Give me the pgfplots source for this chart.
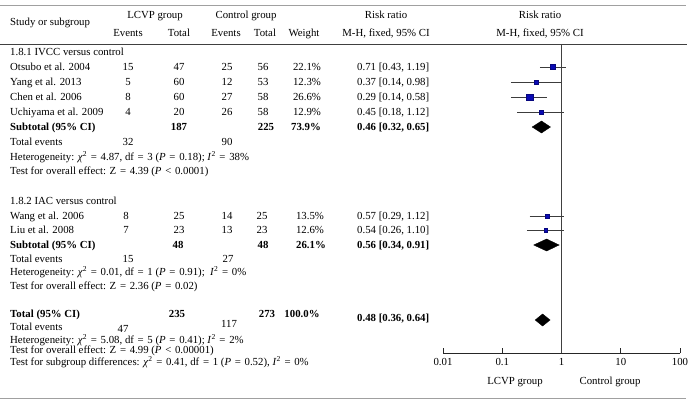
\documentclass[border=0pt]{standalone}
\usepackage{pgfplots}
\pgfplotsset{compat=1.18}
\usepackage{fontspec}
\setmainfont{Liberation Serif}
\definecolor{sqblue}{RGB}{10,10,180}
\definecolor{rulegray}{RGB}{160,160,160}
\definecolor{cigray}{RGB}{60,60,60}
\newcommand{\fs}{\fontsize{10.8}{12}\selectfont}
\newcommand{\chisq}{\textit{χ}\textsuperscript{2}}
\newcommand{\Isq}{\textit{I}\textsuperscript{2}}
\newcommand{\eq}{\hspace{1pt}=\hspace{1pt}}
\newcommand{\lt}{\hspace{1pt}<\hspace{1pt}}
\tikzset{t/.style={inner sep=0pt, anchor=base, yshift=-3.7pt, font=\fs},
         l/.style={t, anchor=base west}}
\begin{document}
\begin{tikzpicture}[x=1pt,y=-1pt]
\useasboundingbox (0,0) rectangle (696,409);
% rules
\draw[rulegray, line width=1pt] (0,6) -- (686,6);
\draw[black!75, line width=0.9pt] (0,44) -- (687,44);
\draw[rulegray, line width=1pt] (0,398) -- (686,398);

% header
\node[l] at (10,22) {Study or subgroup};
\node[t] at (155,15) {LCVP group};
\node[t] at (128,33) {Events};
\node[t] at (179,33) {Total};
\node[t] at (246,15) {Control group};
\node[t] at (226,33) {Events};
\node[t] at (265,33) {Total};
\node[t] at (304,33) {Weight};
\node[t] at (386,15) {Risk ratio};
\node[t] at (386,33) {M-H, fixed, 95\% CI};
\node[t] at (540,15) {Risk ratio};
\node[t] at (540,33) {M-H, fixed, 95\% CI};

% subgroup 1.8.1
\node[l] at (10,52) {1.8.1 IVCC versus control};
\node[l] at (10,67) {Otsubo et al. 2004};
\node[t] at (128,67) {15}; \node[t] at (179,67) {47}; \node[t] at (227,67) {25}; \node[t] at (263,67) {56}; \node[t] at (307,67) {22.1\%};
\node[l] at (357,67) {0.71 [0.43, 1.19]};
\node[l] at (10,82) {Yang et al. 2013};
\node[t] at (128,82) {5}; \node[t] at (179,82) {60}; \node[t] at (227,82) {12}; \node[t] at (263,82) {53}; \node[t] at (307,82) {12.3\%};
\node[l] at (357,82) {0.37 [0.14, 0.98]};
\node[l] at (10,97) {Chen et al. 2006};
\node[t] at (128,97) {8}; \node[t] at (179,97) {60}; \node[t] at (227,97) {27}; \node[t] at (263,97) {58}; \node[t] at (307,97) {26.6\%};
\node[l] at (357,97) {0.29 [0.14, 0.58]};
\node[l] at (10,112) {Uchiyama et al. 2009};
\node[t] at (128,112) {4}; \node[t] at (179,112) {20}; \node[t] at (227,112) {26}; \node[t] at (263,112) {58}; \node[t] at (307,112) {12.9\%};
\node[l] at (357,112) {0.45 [0.18, 1.12]};
\node[l] at (10,127) {\bfseries Subtotal (95\% CI)};
\node[t] at (179,127) {\bfseries 187}; \node[t] at (266,127) {\bfseries 225}; \node[t] at (306,127) {\bfseries 73.9\%};
\node[l] at (357,127) {\bfseries 0.46 [0.32, 0.65]};
\node[l] at (10,142) {Total events};
\node[t] at (128,142) {32}; \node[t] at (227,142) {90};
\node[l] at (10,157) {Heterogeneity: \chisq{} \eq{} 4.87, df \eq{} 3 (\textit{P} \eq{} 0.18); \Isq{} \eq{} 38\%};
\node[l] at (10,171) {Test for overall effect: Z \eq{} 4.39 (\textit{P} \lt{} 0.0001)};

% subgroup 1.8.2
\node[l] at (10,201) {1.8.2 IAC versus control};
\node[l] at (10,216) {Wang et al. 2006};
\node[t] at (126,216) {8}; \node[t] at (179,216) {25}; \node[t] at (227,216) {14}; \node[t] at (262,216) {25}; \node[t] at (310,216) {13.5\%};
\node[l] at (357,216) {0.57 [0.29, 1.12]};
\node[l] at (10,230) {Liu et al. 2008};
\node[t] at (126,230) {7}; \node[t] at (179,230) {23}; \node[t] at (227,230) {13}; \node[t] at (262,230) {23}; \node[t] at (310,230) {12.6\%};
\node[l] at (357,230) {0.54 [0.26, 1.10]};
\node[l] at (10,245) {\bfseries Subtotal (95\% CI)};
\node[t] at (178,245) {\bfseries 48}; \node[t] at (263,245) {\bfseries 48}; \node[t] at (311,245) {\bfseries 26.1\%};
\node[l] at (357,245) {\bfseries 0.56 [0.34, 0.91]};
\node[l] at (10,259) {Total events};
\node[t] at (128,259) {15}; \node[t] at (228,259) {27};
\node[l] at (10,272) {Heterogeneity: \chisq{} \eq{} 0.01, df \eq{} 1 (\textit{P} \eq{} 0.91); \ \Isq{} \eq{} 0\%};
\node[l] at (10,286) {Test for overall effect: Z \eq{} 2.36 (\textit{P} \eq{} 0.02)};

% total
\node[l] at (10,314) {\bfseries Total (95\% CI)};
\node[t] at (177,314) {\bfseries 235}; \node[t] at (267,314) {\bfseries 273}; \node[t] at (302,314) {\bfseries 100.0\%};
\node[l] at (357,318) {\bfseries 0.48 [0.36, 0.64]};
\node[l] at (10,327) {Total events};
\node[t] at (123,329) {47}; \node[t] at (229,324) {117};
\node[l] at (10,340) {Heterogeneity: \chisq{} \eq{} 5.08, df \eq{} 5 (\textit{P} \eq{} 0.41); \Isq{} \eq{} 2\%};
\node[l] at (10,350) {Test for overall effect: Z \eq{} 4.99 (\textit{P} \lt{} 0.00001)};
\node[l] at (10,362) {Test for subgroup differences: \chisq{} \eq{} 0.41, df \eq{} 1 (\textit{P} \eq{} 0.52), \Isq{} \eq{} 0\%};

% favours labels
\node[t] at (515,381) {LCVP group};
\node[t] at (610,381) {Control group};

\begin{axis}[
    at={(443pt,-353pt)}, anchor=south west,
    scale only axis, width=237pt, height=309pt,
    xmode=log, xmin=0.01, xmax=100,
    ymin=-353, ymax=-44,
    axis x line=bottom, axis y line=none,
    x axis line style={-, draw=black!85, line width=0.8pt},
    xtick={0.01,0.1,1,10,100},
    xticklabels={0.01,0.1,1,10,100},
    xminorticks=false,
    tick align=inside, major tick length=5pt,
    tick style={black!85, line width=0.8pt},
    xticklabel style={font=\fs, inner sep=0pt, yshift=-5pt},
    clip=false,
]
% line of no effect
\addplot[black!75, line width=0.8pt] coordinates {(1,-44) (1,-353)};
% confidence intervals
\addplot[cigray, line width=0.8pt] coordinates {(0.43,-67) (1.19,-67)};
\addplot[cigray, line width=0.8pt] coordinates {(0.14,-82) (0.98,-82)};
\addplot[cigray, line width=0.8pt] coordinates {(0.14,-97) (0.58,-97)};
\addplot[cigray, line width=0.8pt] coordinates {(0.18,-112) (1.12,-112)};
\addplot[cigray, line width=0.8pt] coordinates {(0.29,-216) (1.12,-216)};
\addplot[cigray, line width=0.8pt] coordinates {(0.26,-230) (1.10,-230)};
% point estimates, size by weight
\addplot[only marks, mark=square*, mark size=2.7pt, mark options={draw=sqblue!70!black, fill=sqblue}] coordinates {(0.71,-67)};
\addplot[only marks, mark=square*, mark size=1.9pt, mark options={draw=sqblue!70!black, fill=sqblue}] coordinates {(0.37,-82)};
\addplot[only marks, mark=square*, mark size=3.1pt, mark options={draw=sqblue!70!black, fill=sqblue}] coordinates {(0.29,-97)};
\addplot[only marks, mark=square*, mark size=1.9pt, mark options={draw=sqblue!70!black, fill=sqblue}] coordinates {(0.45,-112)};
\addplot[only marks, mark=square*, mark size=1.9pt, mark options={draw=sqblue!70!black, fill=sqblue}] coordinates {(0.57,-216)};
\addplot[only marks, mark=square*, mark size=1.9pt, mark options={draw=sqblue!70!black, fill=sqblue}] coordinates {(0.54,-230)};
% pooled estimates
\addplot[fill=black, draw=black] coordinates {(0.32,-127) (0.46,-121) (0.65,-127) (0.46,-133)} -- cycle;
\addplot[fill=black, draw=black] coordinates {(0.34,-245) (0.56,-239) (0.91,-245) (0.56,-251)} -- cycle;
\addplot[fill=black, draw=black] coordinates {(0.36,-320) (0.48,-314) (0.64,-320) (0.48,-326)} -- cycle;
\end{axis}
\end{tikzpicture}
\end{document}
